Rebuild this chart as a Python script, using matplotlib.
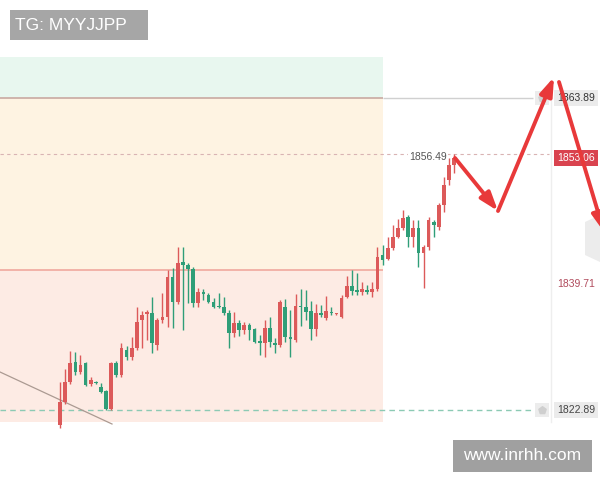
import matplotlib
matplotlib.use('Agg')
import matplotlib.pyplot as plt
from matplotlib.patches import Rectangle, Polygon
import numpy as np

# candle data (open, high, low, close)
opens = [1820.9, 1824.0, 1826.6, 1829.2, 1827.9, 1829.1, 1826.3, 1826.6, 1825.9, 1825.4,
         1823.0, 1829.1, 1827.5, 1830.8, 1829.9, 1831.0, 1834.7, 1835.5, 1835.6, 1831.4,
         1834.7, 1835.1, 1840.4, 1837.1, 1842.3, 1842.0, 1841.4, 1837.0, 1838.4, 1838.0,
         1837.1, 1836.6, 1836.4, 1835.6, 1833.0, 1834.3, 1833.4, 1834.1, 1833.5, 1832.0,
         1831.7, 1833.7, 1831.7, 1831.4, 1836.4, 1832.5, 1832.1, 1836.6, 1836.4, 1835.9,
         1833.5, 1835.6, 1835.0, 1835.8, 1835.5, 1835.1, 1837.7, 1839.2, 1838.7, 1838.4,
         1838.7, 1838.4, 1838.8, 1843.3, 1842.7, 1844.2, 1845.6, 1846.8, 1848.3, 1845.6,
         1846.8, 1843.5, 1844.3, 1847.6, 1846.9, 1849.8, 1853.1, 1855.1]
highs = [1826.6, 1828.3, 1830.7, 1830.5, 1830.1, 1829.2, 1827.2, 1826.7, 1826.4, 1825.5,
         1829.2, 1829.3, 1831.7, 1831.3, 1832.5, 1836.4, 1835.9, 1836.0, 1837.7, 1835.0,
         1838.3, 1841.3, 1841.6, 1844.3, 1844.3, 1842.2, 1841.7, 1838.9, 1838.8, 1838.3,
         1837.6, 1838.3, 1837.7, 1836.0, 1835.8, 1834.7, 1834.5, 1834.3, 1833.7, 1832.8,
         1834.7, 1835.1, 1832.4, 1837.4, 1837.5, 1836.0, 1838.1, 1838.8, 1838.7, 1837.2,
         1836.8, 1836.7, 1837.9, 1836.4, 1835.6, 1838.0, 1840.5, 1841.3, 1840.9, 1839.7,
         1839.3, 1839.7, 1844.3, 1844.6, 1845.6, 1847.2, 1848.0, 1849.2, 1848.5, 1847.9,
         1847.9, 1844.6, 1848.2, 1847.9, 1850.1, 1853.5, 1856.0, 1856.49]
lows = [1820.5, 1823.7, 1826.3, 1827.5, 1827.6, 1826.0, 1826.0, 1826.3, 1825.1, 1822.9,
        1822.9, 1827.2, 1827.2, 1829.5, 1829.5, 1830.8, 1831.0, 1832.1, 1830.4, 1830.8,
        1834.3, 1833.8, 1833.7, 1836.8, 1833.4, 1837.0, 1836.4, 1836.4, 1837.4, 1837.0,
        1836.3, 1836.3, 1835.4, 1831.0, 1832.5, 1832.6, 1832.9, 1832.1, 1831.7, 1830.1,
        1829.9, 1831.2, 1830.4, 1831.2, 1831.8, 1829.9, 1831.8, 1833.9, 1834.7, 1832.1,
        1832.6, 1835.1, 1834.7, 1835.4, 1835.4, 1835.0, 1837.6, 1838.0, 1838.0, 1838.0,
        1838.1, 1837.7, 1838.5, 1842.0, 1842.6, 1843.9, 1845.5, 1846.5, 1844.3, 1844.3,
        1841.7, 1838.9, 1843.9, 1845.6, 1846.5, 1848.9, 1852.5, 1854.0]
closes = [1824.0, 1826.6, 1829.1, 1827.9, 1828.8, 1826.2, 1826.8, 1826.4, 1825.3, 1823.0,
          1829.1, 1827.5, 1831.0, 1829.9, 1831.0, 1834.5, 1835.4, 1835.8, 1831.7, 1834.7,
          1835.1, 1840.4, 1837.1, 1842.2, 1842.0, 1841.4, 1837.0, 1838.4, 1838.1, 1837.1,
          1836.4, 1836.4, 1835.6, 1833.0, 1834.3, 1833.4, 1834.1, 1833.4, 1831.8, 1831.7,
          1833.7, 1831.8, 1831.4, 1837.1, 1832.5, 1832.2, 1836.6, 1836.4, 1835.8, 1833.5,
          1835.6, 1835.4, 1835.9, 1835.6, 1835.5, 1837.6, 1839.2, 1838.5, 1838.4, 1838.8,
          1838.4, 1838.8, 1843.0, 1842.6, 1844.2, 1845.6, 1846.8, 1848.1, 1845.6, 1846.8,
          1843.5, 1844.3, 1847.9, 1847.2, 1849.8, 1852.5, 1855.1, 1856.0]

upper_level = 1863.89
last_high = 1856.49
current_price = 1853.06
mid_level = 1841.3
mid_label = 1839.71
lower_level = 1822.89
zone_top = 1869.3
zone_bottom = 1821.3

up_color = '#dc5a5a'
down_color = '#2f9e78'

fig = plt.figure(figsize=(6, 4.8), dpi=100)
ax = fig.add_axes([0, 0, 1, 1])
ax.set_xlim(-11.72, 105.47)
ax.set_ylim(1813.69, 1876.77)
ax.axis('off')

# pixel -> axes fraction helpers for the overlay items
def fx(px):
    return px / 600.0

def fy(py):
    return 1 - py / 480.0

band_right = 63.1
band_left = -11.72
ax.add_patch(Rectangle((band_left, upper_level), band_right - band_left, zone_top - upper_level,
                       facecolor='#e8f7ef', edgecolor='none', zorder=0))
ax.add_patch(Rectangle((band_left, mid_level), band_right - band_left, upper_level - mid_level,
                       facecolor='#fef3e2', edgecolor='none', zorder=0))
ax.add_patch(Rectangle((band_left, zone_bottom), band_right - band_left, mid_level - zone_bottom,
                       facecolor='#fdebe4', edgecolor='none', zorder=0))

ax.hlines(upper_level, band_left, band_right, color='#c9a9a2', lw=1.2, zorder=1)
ax.hlines(upper_level, band_right, 92.3, color='#d0d0d0', lw=1, zorder=1)
ax.hlines(mid_level, band_left, band_right, color='#f0a89e', lw=1.2, zorder=1)
ax.hlines(last_high, band_left, 95.5, color='#d9b3b3', lw=0.8, linestyles=(0, (3, 3)), zorder=1)
ax.hlines(lower_level, band_left, 93.0, color='#8ccab4', lw=1, linestyles=(0, (4, 3)), zorder=1)

# vertical separator of the price scale
ax.plot([fx(551), fx(551)], [fy(85), fy(422)], transform=ax.transAxes, color='#eeeeee', lw=1, zorder=1)

# trend line
ax.plot([fx(0), fx(112)], [fy(372), fy(424)], transform=ax.transAxes, color='#ab9a92', lw=0.9, zorder=2)

x = np.arange(len(opens))
o = np.array(opens)
c = np.array(closes)
colors = [up_color if cc >= oo else down_color for oo, cc in zip(o, c)]
ax.vlines(x, lows, highs, colors=colors, lw=1, zorder=3)
body = np.maximum(np.abs(c - o), 0.15)
ax.bar(x, body, bottom=np.minimum(o, c), width=0.72, color=colors, zorder=4)

# price labels
ax.text(fx(447), fy(157), '%.2f' % last_high, transform=ax.transAxes, ha='right', va='center',
        fontsize=7.5, color='#555555', family='Liberation Sans',
        bbox=dict(boxstyle='square,pad=0.1', fc='white', ec='none'), zorder=5)
ax.text(fx(576), fy(98), '%.2f' % upper_level, transform=ax.transAxes, ha='center', va='center',
        fontsize=7.5, color='#333333', family='Liberation Sans',
        bbox=dict(boxstyle='square,pad=0.3', fc='#ebebeb', ec='none'), zorder=5)
ax.text(fx(576), fy(410), '%.2f' % lower_level, transform=ax.transAxes, ha='center', va='center',
        fontsize=7.5, color='#444444', family='Liberation Sans',
        bbox=dict(boxstyle='square,pad=0.3', fc='#ebebeb', ec='none'), zorder=5)
ax.text(fx(576), fy(158), '%.2f' % current_price, transform=ax.transAxes, ha='center', va='center',
        fontsize=7.5, color='white', family='Liberation Sans',
        bbox=dict(boxstyle='square,pad=0.3', fc='#d9434f', ec='none'), zorder=5)
ax.text(fx(576), fy(284), '%.2f' % mid_label, transform=ax.transAxes, ha='center', va='center',
        fontsize=7.5, color='#b04a5c', family='Liberation Sans', zorder=5)

# small bell icons
for py in (98, 410):
    ax.add_patch(Rectangle((fx(535), fy(py + 7)), fx(14), 14 / 480.0, transform=ax.transAxes,
                           facecolor='#ececec', edgecolor='none', zorder=5))
    ax.scatter([fx(542)], [fy(py)], transform=ax.transAxes, s=30, marker='p',
               color='#cfcfcf', zorder=6)

# faint gray shape on the right edge
ax.add_patch(Polygon([(fx(585), fy(222)), (fx(600), fy(215)), (fx(600), fy(262)), (fx(585), fy(255))],
                     closed=True, transform=ax.transAxes, facecolor='#ececec', edgecolor='none', zorder=2))

# red arrows
arrow_kw = dict(arrowstyle='-|>,head_length=1.1,head_width=0.38', color='#e8393a', lw=2.8,
                shrinkA=0, shrinkB=0)
path = [(455, 158), (498, 211), (554, 77)]
for (x0, y0), (x1, y1) in zip(path[:-1], path[1:]):
    ax.annotate('', xy=(fx(x1), fy(y1)), xytext=(fx(x0), fy(y0)), xycoords='axes fraction',
                textcoords='axes fraction', arrowprops=arrow_kw, zorder=7, annotation_clip=False)
ax.annotate('', xy=(fx(604), fy(232)), xytext=(fx(559), fy(82)), xycoords='axes fraction',
            textcoords='axes fraction', arrowprops=arrow_kw, zorder=7, annotation_clip=False)

# watermark boxes
fig.patches.append(Rectangle((fx(10), fy(40)), fx(138), 30 / 480.0, transform=fig.transFigure,
                             facecolor='#a6a6a6', edgecolor='none', zorder=8))
fig.text(fx(15), fy(25), 'TG: MYYJJPP', ha='left', va='center', fontsize=12.5, color='white',
         family='Liberation Sans', zorder=9)
fig.patches.append(Rectangle((fx(453), fy(472)), fx(139), 32 / 480.0, transform=fig.transFigure,
                             facecolor='#a0a0a0', edgecolor='none', zorder=8))
fig.text(fx(522), fy(456), 'www.inrhh.com', ha='center', va='center', fontsize=12.5, color='white',
         family='Liberation Sans', zorder=9)

fig.savefig('out.png', dpi=100)
